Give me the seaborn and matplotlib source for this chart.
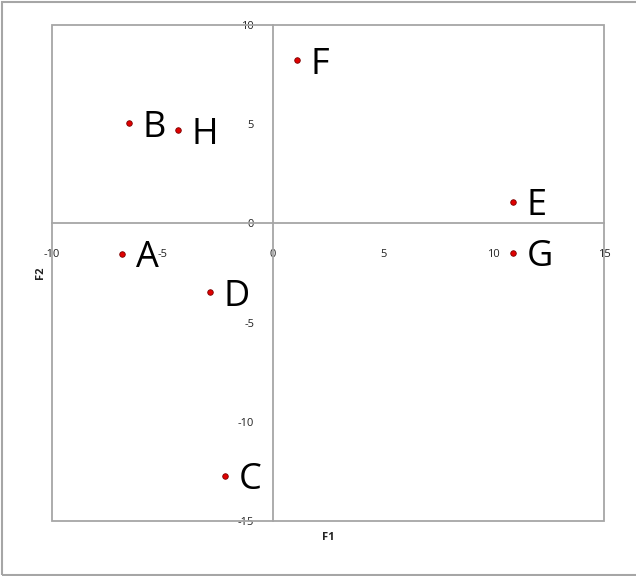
import matplotlib
matplotlib.use("Agg")
import matplotlib.pyplot as plt
import seaborn as sns
import pandas as pd
from matplotlib.patches import Rectangle

labels = ["A", "B", "C", "D", "E", "F", "G", "H"]
f1 = [-6.83, -6.51, -2.16, -2.84, 10.88, 1.10, 10.88, -4.29]
f2 = [-1.54, 5.06, -12.73, -3.47, 1.08, 8.23, -1.49, 4.70]
x_ticks = [-10, -5, 0, 5, 10, 15]
y_ticks = [-15, -10, -5, 0, 5, 10]

sns.set_theme(style="white")
plt.rcParams['font.family'] = ['Open Sans', 'DejaVu Sans']
plt.rcParams['axes.unicode_minus'] = False

GRAY = "#a6a6a6"
fig = plt.figure(figsize=(6.36, 5.76), dpi=100)
ax = fig.add_axes([52/636, 55/576, 552/636, 496/576])

df = pd.DataFrame(dict(F1=f1, F2=f2, label=labels))
sns.scatterplot(data=df, x="F1", y="F2", ax=ax, color="#e00000",
                edgecolor="#7a0000", s=16, linewidth=0.6, zorder=5)

for lab, x, y in zip(df["label"], df["F1"], df["F2"]):
    ax.annotate(lab, (x, y), xytext=(10, 0), textcoords='offset points',
                fontsize=26, va='center_baseline', ha='left', color='black')

ax.set_xlim(-10, 15)
ax.set_ylim(-15, 10)
ax.set_xticks(x_ticks)
ax.set_yticks(y_ticks)
ax.spines['left'].set_position(('data', 0))
ax.spines['bottom'].set_position(('data', 0))
ax.spines['top'].set_visible(False)
ax.spines['right'].set_visible(False)
for s in ['left', 'bottom']:
    ax.spines[s].set_color(GRAY)
    ax.spines[s].set_linewidth(1.3)
ax.add_patch(Rectangle((0, 0), 1, 1, transform=ax.transAxes, fill=False,
                       edgecolor=GRAY, lw=1.3, clip_on=False, zorder=1))
ax.tick_params(axis='both', direction='inout', length=7, width=1, color=GRAY,
               labelsize=8, labelcolor='#222222')
ax.tick_params(axis='x', pad=15)
ax.tick_params(axis='y', pad=10)

ax.set_xlabel("F1", fontweight='bold', fontsize=8, color='#222222')
ax.set_ylabel("F2", fontweight='bold', fontsize=8, color='#222222')
ax.xaxis.set_label_coords(0.5, -16/496)
ax.xaxis.label.set_va('center')
ax.yaxis.set_label_coords(-12/552, 0.5)
ax.yaxis.label.set_va('center')

fig.patches.append(Rectangle((2/636, 1/576), 1, 573/576, transform=fig.transFigure,
                             fill=False, edgecolor=GRAY, lw=1.5))

fig.savefig("out.png", dpi=100)
